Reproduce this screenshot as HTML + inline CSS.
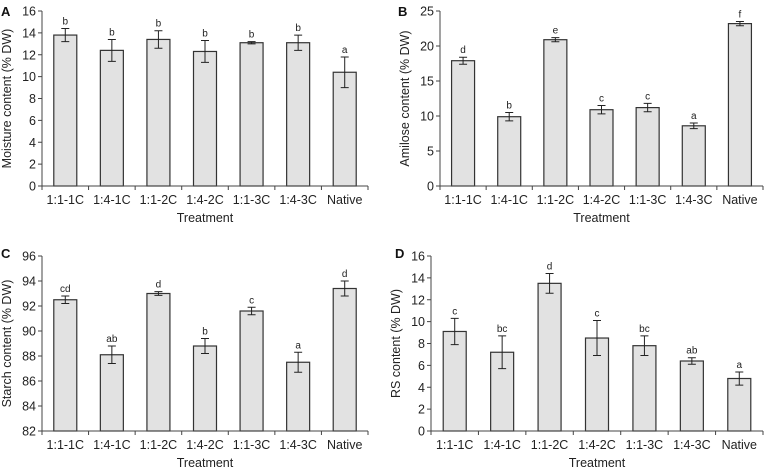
<!DOCTYPE html>
<html><head><meta charset="utf-8"><style>
html,body{margin:0;padding:0;background:#fff;}
svg{display:block;font-family:"Liberation Sans",Arial,sans-serif;}
</style></head><body>
<svg id="fig" width="766" height="468" viewBox="0 0 766 468"></svg>
<script>
const categories = ["1:1-1C","1:4-1C","1:1-2C","1:4-2C","1:1-3C","1:4-3C","Native"];
const moistureValues = [13.8,12.4,13.4,12.3,13.1,13.1,10.4];
const moistureErrors = [0.6,1.0,0.8,1.0,0.1,0.7,1.4];
const moistureLetters = ["b","b","b","b","b","b","a"];
const moistureTicks = [0,2,4,6,8,10,12,14,16];
const amyloseValues = [17.9,9.9,20.9,10.9,11.2,8.6,23.2];
const amyloseErrors = [0.5,0.6,0.3,0.6,0.6,0.4,0.3];
const amyloseLetters = ["d","b","e","c","c","a","f"];
const amyloseTicks = [0,5,10,15,20,25];
const starchValues = [92.5,88.1,93.0,88.8,91.6,87.5,93.4];
const starchErrors = [0.3,0.7,0.15,0.6,0.3,0.8,0.6];
const starchLetters = ["cd","ab","d","b","c","a","d"];
const starchTicks = [82,84,86,88,90,92,94,96];
const rsValues = [9.1,7.2,13.5,8.5,7.8,6.4,4.8];
const rsErrors = [1.2,1.5,0.9,1.6,0.9,0.3,0.6];
const rsLetters = ["c","bc","d","c","bc","ab","a"];
const rsTicks = [0,2,4,6,8,10,12,14,16];

const NS="http://www.w3.org/2000/svg";
const svg=document.getElementById('fig');
function mk(tag,attrs,parent,text){const e=document.createElementNS(NS,tag);for(const k in attrs)e.setAttribute(k,attrs[k]);if(text!==undefined)e.textContent=text;(parent||svg).appendChild(e);return e;}

function panel(id,label,title,vals,errs,letters,ticks,x0,x1,yTop,yBot,lx,ly){
  const g=mk('g',{});
  
  
  const ymin=ticks[0], ymax=ticks[ticks.length-1];
  const yS=v=>yBot-(v-ymin)/(ymax-ymin)*(yBot-yTop);
  const step=(x1-x0)/categories.length;
  const xC=i=>x0+step*(i+0.5);
  const pl=mk('text',{x:lx,y:ly,'font-size':13,'font-weight':'bold',fill:'#111'},g,label);
  
  
  vals.forEach((v,i)=>{
    const bw=23, y=yS(v);
    const b=mk('rect',{x:xC(i)-bw/2,y:y,width:bw,height:yBot-y,fill:'#e2e2e2',stroke:'#333','stroke-width':1.2},g);
    
    
    const e=errs[i], yt=yS(v+e), yb=yS(v-e), cx=xC(i);
    const eb=mk('path',{d:`M${cx},${yt}V${yb}M${cx-4},${yt}H${cx+4}M${cx-4},${yb}H${cx+4}`,stroke:'#222','stroke-width':1,fill:'none'},g);
    
    
    const t=mk('text',{x:cx,y:yt-4,'font-size':10,'text-anchor':'middle',fill:'#222'},g,letters[i]);
    
    
    const xl=mk('text',{x:cx,y:yBot+18,'font-size':12.5,'text-anchor':'middle',fill:'#222'},g,categories[i]);
    
    
  });
  const ax=mk('path',{d:`M${x0},${yTop}V${yBot}H${x1}`,stroke:'#444','stroke-width':1,fill:'none'},g);
  
  
  let d='';
  for(let i=0;i<=categories.length;i++){const x=x0+step*i;d+=`M${x},${yBot}v4`;}
  ticks.forEach(t=>{d+=`M${x0-4},${yS(t)}H${x0}`;});
  mk('path',{d:d,stroke:'#444','stroke-width':1},g);
  ticks.forEach(t=>{
    const tl=mk('text',{x:x0-6,y:yS(t)+4.5,'font-size':12.5,'text-anchor':'end',fill:'#222'},g,String(t));
    
    
  });
  const yt=mk('text',{x:0,y:0,'font-size':12.5,'text-anchor':'middle',fill:'#222',transform:`translate(${x0-31},${(yTop+yBot)/2}) rotate(-90)`},g,title);
  
  
  const xt=mk('text',{x:(x0+x1)/2,y:yBot+36,'font-size':12.5,'text-anchor':'middle',fill:'#222'},g,'Treatment');
  
  
}
panel('a','A','Moisture content (% DW)',moistureValues,moistureErrors,moistureLetters,moistureTicks,42,368,11,186,1,16);
panel('b','B','Amilose content (% DW)',amyloseValues,amyloseErrors,amyloseLetters,amyloseTicks,440,763,11,186,398,16);
panel('c','C','Starch content (% DW)',starchValues,starchErrors,starchLetters,starchTicks,42,368,256,431,1,258);
panel('d','D','RS content (% DW)',rsValues,rsErrors,rsLetters,rsTicks,431,763,256,431,395,258);
</script>
</body></html>
